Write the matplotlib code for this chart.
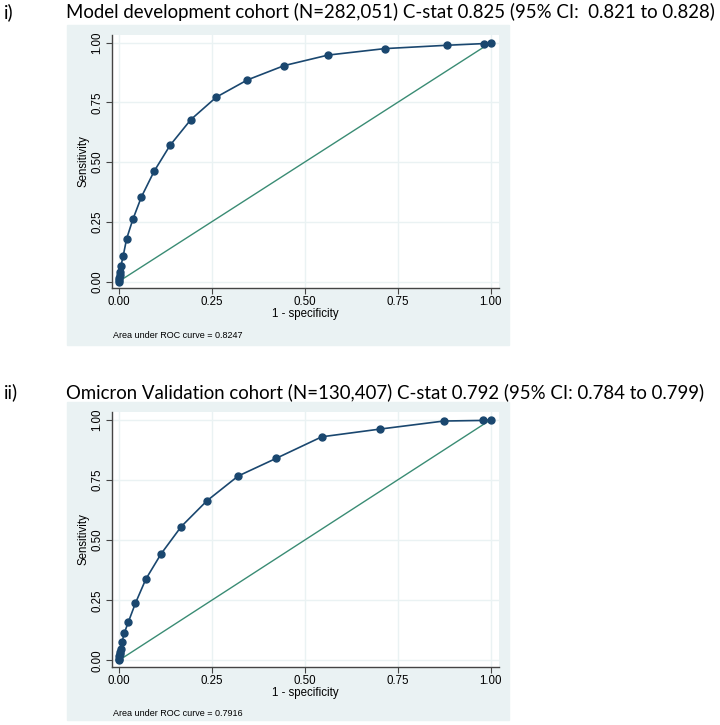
import matplotlib.pyplot as plt
from matplotlib.patches import Rectangle

plt.rcParams['font.family'] = ['Liberation Sans', 'DejaVu Sans']

# ROC points
dev_fpr = [0.0, 0.001, 0.002, 0.003, 0.004, 0.006, 0.012, 0.0215, 0.038, 0.061, 0.095,
           0.138, 0.194, 0.2625, 0.346, 0.445, 0.563, 0.715, 0.882, 0.981, 1.0]
dev_sens = [0.0, 0.008, 0.016, 0.027, 0.038, 0.065, 0.107, 0.18, 0.26, 0.354, 0.461,
            0.570, 0.678, 0.772, 0.844, 0.904, 0.948, 0.975, 0.989, 0.996, 1.0]

omi_fpr = [0.0, 0.001, 0.002, 0.003, 0.004, 0.005, 0.009, 0.015, 0.026, 0.045, 0.073,
           0.114, 0.168, 0.237, 0.321, 0.424, 0.546, 0.702, 0.874, 0.979, 1.0]
omi_sens = [0.0, 0.008, 0.017, 0.026, 0.035, 0.046, 0.077, 0.114, 0.160, 0.238, 0.338,
            0.443, 0.556, 0.663, 0.766, 0.840, 0.929, 0.961, 0.9945, 0.997, 1.0]

panels = [
    ("i)", "Model development cohort (N=282,051) C-stat 0.825 (95% CI:  0.821 to 0.828)",
     dev_fpr, dev_sens, "0.8247"),
    ("ii)", "Omicron Validation cohort (N=130,407) C-stat 0.792 (95% CI: 0.784 to 0.799)",
     omi_fpr, omi_sens, "0.7916"),
]

ticks = [0, 0.25, 0.5, 0.75, 1.0]
ticklabels = ["0.00", "0.25", "0.50", "0.75", "1.00"]

navy = "#1A476F"
green = "#3A8C74"
bg = "#EAF2F3"

W, H = 720, 725
fig = plt.figure(figsize=(7.2, 7.25), dpi=100)

# pixel layout: (panel top, panel bottom, axes top, axes bottom, title y)
layout = [(25, 345, 35, 288, 12), (402, 720, 412, 667, 392)]
ax_left, ax_right = 111.7, 499
x_lo, x_hi = -0.0188, 1.0223

for (lab, title, fpr, sens, auc), (pt, pb, at, ab, ty) in zip(panels, layout):
    fig.patches.append(Rectangle((67 / W, 1 - pb / H), (509 - 67) / W, (pb - pt) / H,
                                 transform=fig.transFigure, color=bg, zorder=-10))
    fig.text(4 / W, 1 - ty / H, lab, fontsize=13.4, family="Lato", va="center")
    fig.text(66 / W, 1 - ty / H, title, fontsize=13.4, family="Lato", va="center")

    ax = fig.add_axes([ax_left / W, 1 - ab / H, (ax_right - ax_left) / W, (ab - at) / H])
    ax.set_facecolor("white")
    ax.plot([0, 1], [0, 1], color=green, lw=1.0, zorder=2)
    ax.plot(fpr, sens, color=navy, lw=1.2, marker="o", ms=5, zorder=3)
    ax.set_xlim(x_lo, x_hi)
    ax.set_ylim(-0.027, 1.032)
    ax.set_xticks(ticks)
    ax.set_xticklabels(ticklabels, fontsize=8.3)
    ax.set_yticks(ticks)
    ax.set_yticklabels(ticklabels, fontsize=8.3, rotation=90, va="center")
    ax.grid(True, color=bg, lw=1.0)
    ax.set_axisbelow(True)
    for s in ["top", "right"]:
        ax.spines[s].set_visible(False)
    for s in ["left", "bottom"]:
        ax.spines[s].set_color("#444444")
        ax.spines[s].set_linewidth(1.0)
    ax.tick_params(colors="#444444", labelcolor="black", length=4, width=0.8, pad=2)
    ax.set_xlabel("1 - specificity", fontsize=8.3, labelpad=0)
    ax.set_ylabel("Sensitivity", fontsize=8.3, labelpad=1)
    ax.text(113 / W, 1 - (ab + 47) / H, "Area under ROC curve = " + auc, fontsize=6.5,
            transform=fig.transFigure, va="center")

fig.savefig("out.png", dpi=100)
